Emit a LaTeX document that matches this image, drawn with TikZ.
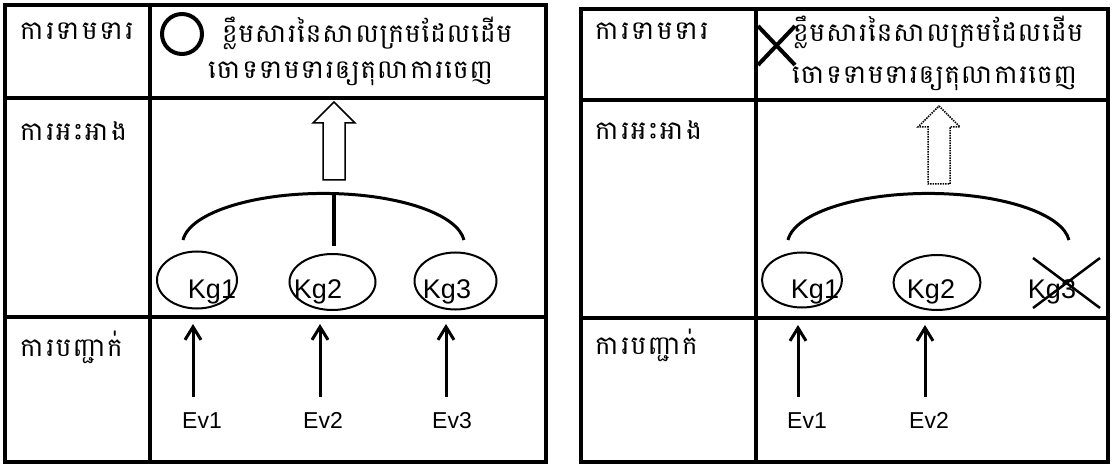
\documentclass[tikz,border=0pt]{standalone}
\usepackage{fontspec}
\setmainfont{Liberation Sans}
\newfontfamily\khmerfont[Script=Khmer, LetterSpace=4]{Battambang}
\newfontfamily\khmerwide[Script=Khmer, LetterSpace=6]{Battambang}
\usepackage{tikz}
\usetikzlibrary{shapes.geometric, arrows.meta}
\newcommand{\blockarrow}[2]{\draw[#2] (#1) -- ++(21,21) -- ++(-10,0) -- ++(0,57) -- ++(-22,0) -- ++(0,-57) -- ++(-10,0) -- cycle;}
\tikzset{grid/.style={line width=4pt}}
\tikzset{rowlabel/.style={anchor=west, inner sep=0pt, font=\khmerwide\fontsize{26}{30}\selectfont}}
\tikzset{claimtext/.style={anchor=west, inner sep=0pt, font=\khmerfont\fontsize{26}{30}\selectfont}}
\tikzset{kgring/.style={ellipse, draw, line width=2pt, inner sep=0pt}}
\tikzset{kgtext/.style={anchor=base, inner sep=0pt, font=\fontsize{27}{30}\selectfont}}
\tikzset{evtext/.style={anchor=base, inner sep=0pt, font=\fontsize{23}{26}\selectfont}}
\tikzset{up/.style={-{Straight Barb[length=13pt,width=16pt]}, line width=3pt, shorten <=15pt}}
\tikzset{roof/.style={line width=3pt}}
\tikzset{strike/.style={line width=4pt}}

\begin{document}
\begin{tikzpicture}[x=1pt, y=-1pt]
        \useasboundingbox (0,0) rectangle (1112,465);

        % LEFT TABLE
        \draw[grid] (5,5) rectangle (546,462);
        \draw[grid] (150,5) -- (150,462);
        \draw[grid] (5,98) -- (546,98);
        \draw[grid] (5,317) -- (546,317);

        \node[rowlabel] (claimL) at (20,31) {ការទាមទារ};
        \node[rowlabel] (warrL) at (20,131) {ការអះអាង};
        \node[rowlabel] (evidL) at (20,347) {ការបញ្ជាក់};

        \node (okL) at (182,34) [circle, draw, line width=4pt, minimum size=40pt, inner sep=0pt] {};
        \node[claimtext] (claimL1) at (222,33) {ខ្លឹមសារនៃសាលក្រមដែលដើម};
        \node[claimtext] (claimL2) at (208,74) {ចោទទាមទារឲ្យតុលាការចេញ};

        \coordinate (tipL) at (334,102);
        \blockarrow{tipL}{line width=1.5pt}

        \coordinate (roofL) at (183,240);
        \draw[roof] (roofL) arc[start angle=185, end angle=355, x radius=141, y radius=51];
        \coordinate (stemL) at (334,194);
        \coordinate (stemLb) at (334,246);
        \draw[line width=4pt] (stemL) -- (stemLb);

        \node (kgL1) at (197,280) [kgring, minimum width=80pt, minimum height=57pt] {};
        \node (kgL2) at (332.5,282) [kgring, minimum width=86pt, minimum height=56pt] {};
        \node (kgL3) at (455.5,281) [kgring, minimum width=82pt, minimum height=57pt] {};
        \node[kgtext] (kgL1t) at (212,299) {Kg1};
        \node[kgtext] (kgL2t) at (318,299) {Kg2};
        \node[kgtext] (kgL3t) at (447,299) {Kg3};

        \coordinate (inL1) at (193,324);
        \coordinate (inL2) at (320,324);
        \coordinate (inL3) at (446,324);
        \node[evtext] (evL1) at (202,428) {Ev1};
        \node[evtext] (evL2) at (323,428) {Ev2};
        \node[evtext] (evL3) at (452,428) {Ev3};
        \draw[up] (evL1.north -| inL1) -- (inL1);
        \draw[up] (evL2.north -| inL2) -- (inL2);
        \draw[up] (evL3.north -| inL3) -- (inL3);

        % RIGHT TABLE
        \draw[grid] (581,9) rectangle (1108,462);
        \draw[grid] (756,9) -- (756,462);
        \draw[grid] (581,100) -- (1108,100);
        \draw[grid] (581,318) -- (1108,318);

        \node[rowlabel] (claimR) at (595,31) {ការទាមទារ};
        \node[rowlabel] (warrR) at (595,130) {ការអះអាង};
        \node[rowlabel] (evidR) at (595,345) {ការបញ្ជាក់};

        \draw[strike] (758,26) -- (795,65) (758,65) -- (795,26);
        \node[claimtext] (claimR1) at (793,32) {ខ្លឹមសារនៃសាលក្រមដែលដើម};
        \node[claimtext] (claimR2) at (792,79) {ចោទទាមទារឲ្យតុលាការចេញ};

        \coordinate (tipR) at (939,106);
        \blockarrow{tipR}{line width=1.5pt, densely dotted}

        \coordinate (roofR) at (788,240);
        \draw[roof] (roofR) arc[start angle=185, end angle=355, x radius=141, y radius=51];

        \node (kgR1) at (802,280) [kgring, minimum width=80pt, minimum height=55pt] {};
        \node (kgR2) at (937,282.5) [kgring, minimum width=87pt, minimum height=55pt] {};
        \node[kgtext] (kgR1t) at (815,299) {Kg1};
        \node[kgtext] (kgR2t) at (931,299) {Kg2};
        \node[kgtext] (kgR3t) at (1052,299) {Kg3};
        \draw[strike, line width=2.5pt] (1033,258) -- (1100,308) (1033,308) -- (1100,258);

        \coordinate (inR1) at (798,325);
        \coordinate (inR2) at (925,325);
        \node[evtext] (evR1) at (807,428) {Ev1};
        \node[evtext] (evR2) at (929,428) {Ev2};
        \draw[up] (evR1.north -| inR1) -- (inR1);
        \draw[up] (evR2.north -| inR2) -- (inR2);

\end{tikzpicture}
\end{document}
